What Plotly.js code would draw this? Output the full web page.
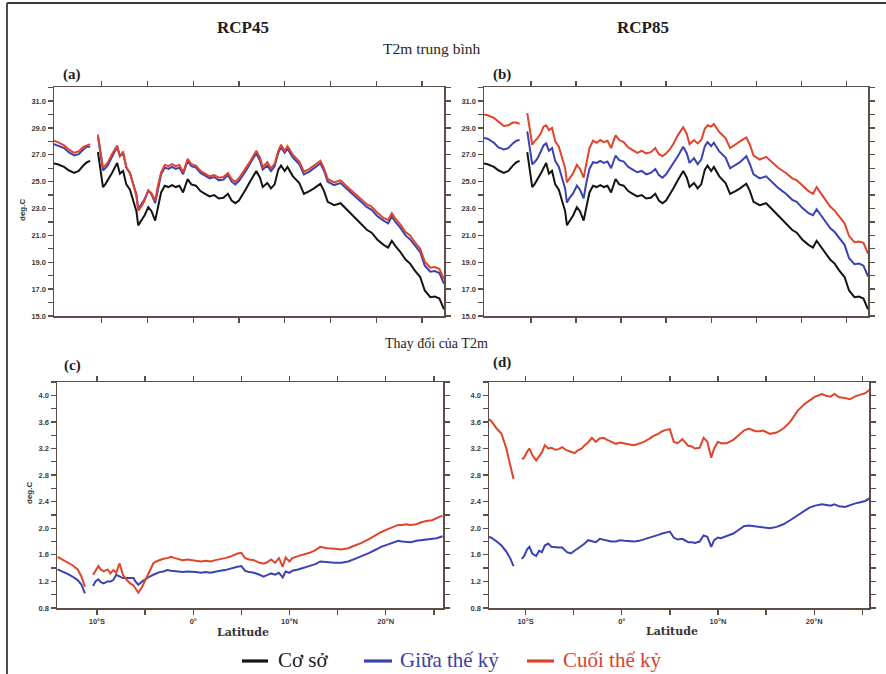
<!DOCTYPE html>
<html>
<head>
<meta charset="utf-8">
<script src="https://cdn.plot.ly/plotly-3.0.1.min.js"></script>
<style>
  html, body { margin: 0; padding: 0; background: #ffffff; }
  #chart { width: 886px; height: 674px; }
</style>
</head>
<body>
<div id="chart"></div>
<script>
// Latitude grid (degrees, negative = south); null rows mark the data gap
const lat = [-15.2,-14.8,-14.1,-13.6,-13.0,-12.5,-12.0,-11.6,-11.25,-10.9,
  -10.4,-10.15,-9.85,-9.6,-9.3,-8.9,-8.6,-8.3,-8.0,-7.65,
  -7.3,-6.9,-6.55,-6.2,-6.0,-5.7,-5.3,-4.9,-4.55,-4.15,
  -3.85,-3.5,-3.1,-2.7,-2.3,-1.9,-1.5,-1.1,-0.6,-0.2,
  0.3,0.8,1.3,1.8,2.3,2.8,3.3,3.8,4.2,4.6,
  5.0,5.4,5.8,6.3,6.9,7.3,7.6,8.1,8.5,8.9,
  9.3,9.6,10.0,10.3,10.9,11.6,12.1,12.7,13.2,13.9,
  14.3,14.7,15.4,16.1,16.8,17.5,18.3,19.0,19.5,20.1,
  20.8,21.3,21.7,22.1,22.6,23.2,23.7,24.2,24.8,25.3,
  25.9,26.4,26.9,27.4];

// Mean 2 m temperature, baseline period (deg C)
const baseT2m = [26.35,26.3,26.1,25.85,25.65,25.8,26.2,26.45,26.55,null,
  27.2,25.9,24.6,24.8,25.1,25.6,26.0,26.4,25.6,25.8,
  24.8,24.4,23.6,22.8,21.75,22.1,22.5,23.1,22.8,22.1,
  23.2,24.2,24.7,24.6,24.75,24.6,24.7,24.2,25.2,24.8,
  24.7,24.3,24.1,23.9,24.0,23.75,23.8,24.1,23.6,23.4,
  23.6,24.1,24.5,25.1,25.8,25.3,24.6,24.9,24.5,24.8,
  25.9,26.2,25.8,26.1,25.4,24.9,24.1,24.3,24.5,24.85,
  24.3,23.5,23.25,23.4,22.9,22.4,21.9,21.4,21.2,20.7,
  20.3,20.1,20.6,20.2,19.8,19.2,18.9,18.4,17.9,16.9,
  16.4,16.45,16.3,15.5];

// RCP4.5 mid-century and end-of-century mean T2m (deg C)
const rcp45Mid = [27.8,27.7,27.5,27.2,26.95,27.05,27.4,27.6,27.6,null,
  28.35,27.1,25.85,26.0,26.25,26.8,27.2,27.6,26.9,27.1,
  26.05,25.65,24.85,24.05,22.95,23.25,23.7,24.35,24.05,23.4,
  24.5,25.55,26.05,25.95,26.1,25.95,26.05,25.55,26.55,26.15,
  26.05,25.65,25.45,25.25,25.35,25.1,25.15,25.5,25.0,24.8,
  25.05,25.45,25.85,26.45,27.1,26.55,25.9,26.2,25.8,26.15,
  27.15,27.55,27.15,27.45,26.8,26.3,25.55,25.75,26.0,26.35,
  25.8,25.0,24.75,24.9,24.45,24.0,23.55,23.1,22.9,22.45,
  22.1,21.9,22.4,22.0,21.6,21.0,20.7,20.25,19.75,18.75,
  18.3,18.35,18.2,17.4];
const rcp45End = [28.05,27.95,27.7,27.4,27.15,27.25,27.6,27.7,27.8,null,
  28.5,27.25,26.05,26.2,26.45,27.0,27.3,27.7,26.9,27.25,
  26.1,25.6,24.8,23.95,22.85,23.1,23.6,24.35,24.15,23.6,
  24.7,25.7,26.25,26.15,26.3,26.15,26.25,25.7,26.7,26.3,
  26.2,25.8,25.6,25.4,25.5,25.3,25.35,25.65,25.2,25.0,
  25.25,25.65,26.05,26.6,27.3,26.8,26.1,26.45,26.0,26.35,
  27.3,27.75,27.3,27.65,27.0,26.5,25.75,25.95,26.2,26.55,
  26.0,25.2,24.95,25.1,24.65,24.2,23.75,23.3,23.15,22.7,
  22.3,22.15,22.65,22.25,21.85,21.25,21.0,20.5,20.0,19.05,
  18.6,18.65,18.5,17.75];

// RCP8.5 mid-century and end-of-century mean T2m (deg C)
const rcp85Mid = [28.25,28.2,27.9,27.55,27.4,27.5,27.85,28.05,28.1,null,
  28.75,27.5,26.3,26.45,26.7,27.25,27.7,27.85,27.3,27.5,
  26.55,26.1,25.3,24.5,23.45,23.8,24.15,24.7,24.4,23.75,
  24.9,25.95,26.45,26.4,26.55,26.4,26.5,26.0,26.95,26.6,
  26.5,26.1,25.9,25.7,25.8,25.55,25.65,25.95,25.5,25.3,
  25.55,25.95,26.35,26.9,27.6,27.1,26.4,26.75,26.3,26.65,
  27.65,27.95,27.65,27.9,27.25,26.8,26.0,26.25,26.45,26.9,
  26.3,25.55,25.25,25.4,24.95,24.5,24.1,23.65,23.5,23.05,
  22.65,22.5,22.95,22.55,22.15,21.55,21.25,20.8,20.3,19.3,
  18.85,18.9,18.75,17.95];
const rcp85End = [30.0,29.95,29.75,29.45,29.15,29.2,29.4,29.4,29.3,null,
  30.1,28.95,27.75,28.0,28.2,28.6,29.1,29.2,28.85,29.0,
  28.0,27.6,26.8,26.0,24.95,25.25,25.65,26.25,25.95,25.3,
  26.45,27.5,28.05,27.9,28.1,27.95,28.05,27.5,28.45,28.1,
  27.95,27.55,27.35,27.15,27.3,27.1,27.2,27.5,27.05,26.9,
  27.1,27.4,27.8,28.45,29.05,28.55,27.8,28.1,27.85,28.1,
  28.95,29.2,29.1,29.3,28.7,28.25,27.5,27.8,28.0,28.3,
  27.75,26.95,26.65,26.85,26.4,26.0,25.65,25.25,25.1,24.7,
  24.3,24.1,24.6,24.2,23.75,23.15,22.85,22.4,21.9,20.95,
  20.5,20.55,20.45,19.65];

// Change of T2m relative to baseline (deg C)
const d45Mid = [null,null,1.38,1.35,1.31,1.27,1.22,1.15,1.02,null,
  1.13,1.2,1.23,1.19,1.17,1.2,1.2,1.22,1.3,1.28,
  1.25,1.25,1.25,1.25,1.2,1.15,1.2,1.24,1.27,1.3,
  1.32,1.34,1.35,1.37,1.36,1.35,1.35,1.34,1.35,1.35,
  1.34,1.33,1.34,1.33,1.35,1.36,1.37,1.39,1.41,1.42,
  1.43,1.36,1.34,1.33,1.3,1.27,1.29,1.32,1.3,1.33,
  1.26,1.35,1.33,1.36,1.38,1.41,1.43,1.46,1.5,1.49,
  1.48,1.48,1.48,1.5,1.54,1.58,1.63,1.68,1.72,1.75,
  1.79,1.81,1.8,1.8,1.79,1.81,1.82,1.83,1.84,1.85,
  1.88,null,null,null];
const d45End = [null,null,1.57,1.53,1.49,1.44,1.38,1.27,1.12,null,
  1.3,1.36,1.43,1.38,1.35,1.38,1.32,1.37,1.33,1.47,
  1.3,1.22,1.17,1.14,1.1,1.03,1.12,1.25,1.35,1.47,
  1.5,1.52,1.54,1.55,1.57,1.55,1.53,1.52,1.53,1.52,
  1.51,1.5,1.51,1.5,1.52,1.53,1.55,1.57,1.6,1.62,
  1.63,1.55,1.53,1.52,1.48,1.47,1.48,1.53,1.48,1.55,
  1.42,1.56,1.5,1.55,1.58,1.61,1.63,1.67,1.72,1.7,
  1.7,1.69,1.68,1.7,1.74,1.78,1.84,1.9,1.94,1.98,
  2.02,2.05,2.05,2.06,2.05,2.06,2.09,2.11,2.12,2.15,
  2.19,null,null,null];
const d85Mid = [null,null,1.88,1.86,1.8,1.74,1.65,1.55,1.43,null,
  1.54,1.58,1.68,1.72,1.62,1.58,1.66,1.64,1.74,1.77,
  1.72,1.71,1.71,1.71,1.68,1.64,1.62,1.66,1.69,1.74,
  1.77,1.82,1.8,1.79,1.84,1.83,1.82,1.8,1.8,1.82,
  1.81,1.8,1.8,1.81,1.83,1.85,1.88,1.9,1.92,1.93,
  1.95,1.86,1.83,1.84,1.79,1.79,1.78,1.8,1.89,1.87,
  1.72,1.82,1.86,1.85,1.88,1.92,1.97,2.03,2.04,2.03,
  2.02,2.01,2.0,2.02,2.06,2.12,2.2,2.27,2.31,2.34,
  2.36,2.35,2.34,2.36,2.33,2.32,2.35,2.37,2.39,2.41,
  2.46,null,null,null];
const d85End = [null,null,3.66,3.62,3.5,3.42,3.2,2.95,2.74,null,
  3.04,3.06,3.15,3.2,3.1,3.02,3.08,3.14,3.25,3.2,
  3.21,3.18,3.19,3.22,3.2,3.17,3.15,3.13,3.17,3.2,
  3.25,3.29,3.36,3.3,3.35,3.36,3.33,3.3,3.27,3.29,
  3.27,3.26,3.25,3.27,3.3,3.34,3.39,3.42,3.46,3.48,
  3.49,3.3,3.28,3.34,3.24,3.23,3.2,3.21,3.36,3.3,
  3.06,3.2,3.3,3.28,3.28,3.33,3.39,3.47,3.5,3.46,
  3.46,3.47,3.42,3.44,3.5,3.6,3.77,3.87,3.92,3.98,
  4.02,3.99,3.98,4.02,3.97,3.96,3.94,3.98,4.01,4.03,
  4.1,null,null,null];

// Axis ticks and labels
const latTicks = [-10, -5, 0, 5, 10, 15, 20, 25];
const latTickText = ['10°S', '', '0°', '', '10°N', '', '20°N', ''];
const seriesNames = ['Cơ sở', 'Giữa thế kỷ', 'Cuối thế kỷ'];

const W = 886, H = 674;
const px = x => x / W;
const py = y => 1 - y / H;

const COL_BASE = '#141414';
const COL_MID = '#3b43b0';
const COL_END = '#e0452c';
const FRAME = '#5e4e48';

function line(x, y, color, xa, ya, name) {
  return { type: 'scatter', mode: 'lines', x: x, y: y, xaxis: xa, yaxis: ya,
    name: name, showlegend: false, connectgaps: false,
    line: { color: color, width: 2 }, hoverinfo: 'skip' };
}

const traces = [
  line(lat, baseT2m, COL_BASE, 'x', 'y', seriesNames[0]),
  line(lat, rcp45Mid, COL_MID, 'x', 'y', seriesNames[1]),
  line(lat, rcp45End, COL_END, 'x', 'y', seriesNames[2]),
  line(lat, baseT2m, COL_BASE, 'x2', 'y2', seriesNames[0]),
  line(lat, rcp85Mid, COL_MID, 'x2', 'y2', seriesNames[1]),
  line(lat, rcp85End, COL_END, 'x2', 'y2', seriesNames[2]),
  line(lat, d45Mid, COL_MID, 'x3', 'y3', seriesNames[1]),
  line(lat, d45End, COL_END, 'x3', 'y3', seriesNames[2]),
  line(lat, d85Mid, COL_MID, 'x4', 'y4', seriesNames[1]),
  line(lat, d85End, COL_END, 'x4', 'y4', seriesNames[2])
];

const tickFont = { family: 'Liberation Sans, Arial, sans-serif', size: 7.5, color: '#3a3a3a', weight: 'bold' };
const common = {
  showline: true, linecolor: FRAME, linewidth: 1.5, mirror: 'ticks',
  ticks: 'outside', ticklen: 5, tickwidth: 1.3, tickcolor: FRAME,
  showgrid: false, zeroline: false, tickfont: tickFont, fixedrange: true
};
function xTop(dom, anchor) {
  return Object.assign({}, common, { domain: dom, anchor: anchor, range: [-15.2, 27.4],
    tickmode: 'array', tickvals: latTicks, showticklabels: false });
}
function xBot(dom, anchor, rng) {
  return Object.assign({}, common, { domain: dom, anchor: anchor, range: rng,
    tickmode: 'array', tickvals: latTicks, ticktext: latTickText });
}
function yTop(dom, anchor) {
  return Object.assign({}, common, { domain: dom, anchor: anchor, range: [15, 32.05],
    tick0: 15, dtick: 2, tickformat: '.1f',
    minor: { dtick: 1, ticks: 'outside', ticklen: 5, tickwidth: 1.3, tickcolor: FRAME } });
}
function yBot(dom, anchor) {
  return Object.assign({}, common, { domain: dom, anchor: anchor, range: [0.8, 4.2],
    tick0: 0.8, dtick: 0.4, tickformat: '.1f',
    minor: { dtick: 0.2, ticks: 'outside', ticklen: 5, tickwidth: 1.3, tickcolor: FRAME } });
}

const topY = [py(316), py(87)];
const botY = [py(608), py(382)];

const serif = 'Liberation Serif, Times New Roman, serif';
function txt(text, x, y, size, opts) {
  return Object.assign({ text: text, x: px(x), y: py(y), xref: 'paper', yref: 'paper',
    showarrow: false, xanchor: 'center', yanchor: 'middle',
    font: { family: serif, size: size, color: '#1e1e1e' } }, opts || {});
}
const boldSerif = size => ({ family: serif, size: size, color: '#1e1e1e', weight: 'bold' });
const sansSmall = { family: 'Liberation Sans, sans-serif', size: 8, color: '#333', weight: 'bold' };
const slab = { family: 'DejaVu Serif, serif', size: 11, color: '#333', weight: 'bold' };

const annotations = [
  txt('RCP45', 243, 28, 17, { font: boldSerif(17) }),
  txt('RCP85', 643, 28, 17, { font: boldSerif(17) }),
  txt('T2m trung bình', 432, 48, 15.5),
  txt('Thay đổi của T2m', 436, 343, 14),
  txt('(a)', 72, 74, 15, { font: boldSerif(15) }),
  txt('(b)', 502, 74, 15, { font: boldSerif(15) }),
  txt('(c)', 72, 365, 15, { font: boldSerif(15) }),
  txt('(d)', 502, 362, 15, { font: boldSerif(15) }),
  txt('deg.C', 22, 210, 8, { textangle: -90, font: sansSmall }),
  txt('deg.C', 29, 493, 8, { textangle: -90, font: sansSmall }),
  txt('Latitude', 243, 632, 11, { font: slab }),
  txt('Latitude', 672, 631, 11, { font: slab }),
  txt(seriesNames[0], 276, 660, 21, { xanchor: 'left', font: { family: serif, size: 21, color: '#1a1a1a' } }),
  txt(seriesNames[1], 398, 660, 21, { xanchor: 'left', font: { family: serif, size: 21, color: '#3b3f9e' } }),
  txt(seriesNames[2], 561, 660, 21, { xanchor: 'left', font: { family: serif, size: 21, color: '#d9432c' } })
];

function seg(x0, y0, x1, y1, color, width) {
  return { type: 'line', xref: 'paper', yref: 'paper', x0: px(x0), y0: py(y0), x1: px(x1), y1: py(y1),
    line: { color: color, width: width } };
}
const shapes = [
  seg(7, 3, 886, 3, '#3a3a3a', 1.8),
  seg(7, 3, 7, 674, '#3a3a3a', 1.8),
  seg(242, 661, 268, 661, COL_BASE, 3.2),
  seg(364, 661, 392, 661, COL_MID, 3.2),
  seg(527, 661, 554, 661, COL_END, 3.2)
];

const layout = {
  width: W, height: H,
  margin: { l: 0, r: 0, t: 0, b: 0, pad: 0 },
  paper_bgcolor: '#ffffff', plot_bgcolor: '#ffffff',
  showlegend: false,
  xaxis: xTop([px(54), px(444)], 'y'),
  yaxis: yTop(topY, 'x'),
  xaxis2: xTop([px(484), px(868)], 'y2'),
  yaxis2: yTop(topY, 'x2'),
  xaxis3: xBot([px(57), px(443)], 'y3', [-14.15, 25.95]),
  yaxis3: yBot(botY, 'x3'),
  xaxis4: xBot([px(489), px(869)], 'y4', [-13.8, 25.7]),
  yaxis4: yBot(botY, 'x4'),
  annotations: annotations,
  shapes: shapes
};

Plotly.newPlot('chart', traces, layout, { displayModeBar: false, staticPlot: true });
</script>
</body>
</html>
